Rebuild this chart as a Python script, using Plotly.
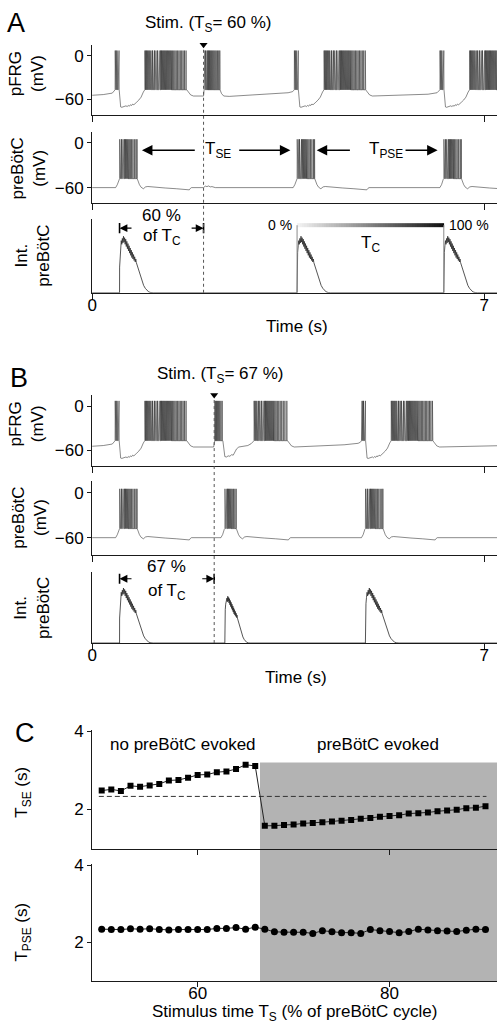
import numpy as np
import plotly.graph_objects as go

W, H = 497, 1032
FONT = "Liberation Sans, Arial, Helvetica, sans-serif"
INK = "#1a1a1a"

# ============================ DATA ============================
T_END = 7.23                     # visible time window (s)
TIME_TICKS = [0, 7]
MV_TICKS = [0, -60]

STIM_A = 1.99                    # stimulus time, panel A (s)
STIM_B = 2.18                    # stimulus time, panel B (s)
TS_A = "60 %"
TS_B = "67 %"

# spike times inside each burst (s after burst onset)
PFRG_SHORT = [0.000, 0.008, 0.016, 0.025, 0.034, 0.044, 0.055, 0.068]
PFRG_LONG = [0.000, 0.007, 0.014, 0.021, 0.029, 0.037, 0.045, 0.053, 0.061, 0.070,
             0.079, 0.088, 0.097, 0.107, 0.117, 0.127, 0.137, 0.148, 0.159, 0.170,
             0.181, 0.193, 0.205, 0.217, 0.229, 0.242, 0.255, 0.268, 0.282, 0.296,
             0.310, 0.325, 0.340, 0.355, 0.371, 0.387, 0.404, 0.421, 0.438, 0.456,
             0.474, 0.494, 0.515, 0.537, 0.560, 0.584, 0.608, 0.632, 0.657, 0.682,
             0.707, 0.735]
PFRG_LONG_B2 = [0.000, 0.008, 0.016, 0.024, 0.033, 0.042, 0.051, 0.061, 0.071, 0.081,
                0.092, 0.103, 0.114, 0.126, 0.138, 0.150, 0.163, 0.176, 0.190, 0.204,
                0.218, 0.233, 0.248, 0.264, 0.280, 0.297, 0.314, 0.332, 0.350, 0.370,
                0.392, 0.415, 0.440, 0.466, 0.493, 0.521, 0.550, 0.585]
PFRG_STIM_A = [0.000, 0.012, 0.024, 0.037, 0.050, 0.064, 0.078, 0.093, 0.108, 0.124,
               0.140, 0.157, 0.175, 0.194, 0.214, 0.236, 0.258, 0.278]
PFRG_STIM_B = [0.000, 0.015, 0.030, 0.047, 0.065, 0.085, 0.107, 0.130]
PB_BURST = [0.000, 0.010, 0.020, 0.030, 0.041, 0.052, 0.064, 0.076, 0.089, 0.103,
            0.118, 0.134, 0.151, 0.170, 0.190, 0.212, 0.236, 0.262, 0.290, 0.310]
PB_BURST_B2 = [0.000, 0.011, 0.022, 0.034, 0.047, 0.061, 0.076, 0.092, 0.110, 0.130,
               0.152, 0.176, 0.200]

PFRG_SPIKE_BASE, PFRG_SPIKE_PEAK = -47, 7
PB_SPIKE_BASE, PB_SPIKE_PEAK = -48, 5

# sub-threshold pieces (t offset s, mV)
PFRG_RAMP = [(0.000, -47), (0.015, -62), (0.025, -70.5), (0.045, -71), (0.075, -70.5),
             (0.100, -70), (0.120, -69), (0.140, -70), (0.160, -68.5), (0.180, -69.5),
             (0.200, -67.5), (0.220, -68.5), (0.240, -66.5), (0.260, -67.5), (0.280, -65.5),
             (0.310, -64), (0.350, -61), (0.390, -57), (0.430, -50), (0.455, -47)]
PFRG_DECAY = [(0.00, -47), (0.03, -50), (0.07, -54), (0.12, -55.5)]
PB_AFTER = [(0.00, -48), (0.04, -56), (0.07, -59.5), (0.11, -61.5), (0.15, -59),
            (0.19, -58.5), (0.30, -59.5), (0.50, -60.5), (0.70, -61.5), (0.90, -62.2),
            (0.93, -63), (0.95, -61), (0.97, -60)]

# integrated preBötC burst (t offset s, relative amplitude)
INT_DT = [0.000, 0.001, 0.010, 0.020, 0.030, 0.040, 0.050, 0.060, 0.070, 0.080,
          0.090, 0.100, 0.110, 0.120, 0.130, 0.140, 0.150, 0.160, 0.170, 0.180,
          0.190, 0.200, 0.210, 0.220, 0.230, 0.240, 0.250, 0.260, 0.270, 0.280,
          0.290, 0.300, 0.320, 0.340, 0.360, 0.380, 0.400, 0.430, 0.460, 0.490,
          0.520, 0.560, 0.600]
INT_V = [0.00, 0.35, 0.55, 0.64, 0.71, 0.66, 0.74, 0.68, 0.77, 0.69,
         0.75, 0.66, 0.73, 0.63, 0.70, 0.60, 0.67, 0.57, 0.64, 0.54,
         0.61, 0.51, 0.58, 0.48, 0.55, 0.46, 0.52, 0.44, 0.49, 0.42,
         0.46, 0.41, 0.36, 0.30, 0.25, 0.20, 0.16, 0.10, 0.06, 0.03,
         0.012, 0.003, 0.00]

# burst onsets (s)
A_PFRG_BURSTS = [(0.41, PFRG_SHORT), (0.94, PFRG_LONG), (2.00, PFRG_STIM_A),
                 (3.61, PFRG_SHORT), (4.14, PFRG_LONG), (6.21, PFRG_SHORT), (6.74, PFRG_LONG)]
B_PFRG_BURSTS = [(0.41, PFRG_SHORT), (0.94, PFRG_LONG), (2.19, PFRG_STIM_B),
                 (2.89, PFRG_LONG_B2), (4.81, PFRG_SHORT), (5.34, PFRG_LONG)]
A_PB_ONSETS = [0.49, 3.66, 6.28]
B_PB_ONSETS = [0.49, 2.37, 4.88]
B_PB_TEMPLATES = [PB_BURST, PB_BURST_B2, PB_BURST]
B_INT_AMP = [1.0, 0.85, 1.0]
B_INT_TSCALE = [1.0, 0.75, 1.0]

# arrows T_SE / T_PSE (s): (head, tail)
TSE_ARROWS = [(0.89, 1.86), (3.54, 2.60)]
TSE_TEXT_T = 2.24
TPSE_ARROWS = [(4.01, 4.63), (6.17, 5.57)]
TPSE_TEXT_T = 5.25
ARROW_MV = -9.7

# Panel C
TS_PCT = [50, 51, 52, 53, 54, 55, 56, 57, 58, 59, 60, 61, 62, 63, 64, 65, 66,
          67, 68, 69, 70, 71, 72, 73, 74, 75, 76, 77, 78, 79, 80, 81, 82, 83, 84,
          85, 86, 87, 88, 89, 90]
T_SE = [2.48, 2.51, 2.47, 2.60, 2.58, 2.61, 2.65, 2.74, 2.75, 2.81, 2.88, 2.89,
        2.95, 2.97, 3.03, 3.14, 3.11,
        1.58, 1.58, 1.60, 1.61, 1.64, 1.65, 1.67, 1.69, 1.71, 1.73, 1.76, 1.78,
        1.81, 1.83, 1.85, 1.89, 1.90, 1.92, 1.95, 1.97, 1.99, 2.03, 2.04, 2.08]
T_PSE = [2.34, 2.33, 2.33, 2.35, 2.34, 2.35, 2.33, 2.32, 2.33, 2.33, 2.33, 2.33,
         2.36, 2.36, 2.38, 2.34, 2.39,
         2.34, 2.27, 2.26, 2.26, 2.26, 2.23, 2.30, 2.27, 2.25, 2.25, 2.23, 2.33,
         2.30, 2.28, 2.25, 2.28, 2.34, 2.32, 2.30, 2.29, 2.28, 2.31, 2.34, 2.33]
T_SE_CONTROL = 2.33
EVOKED_FROM = 66.5
SHADE_TOP_SE = 3.2
C_XRANGE = [49.0, 91.2]


# ============================ HELPERS ============================
def px(x):
    return x / W


def py(y):
    return 1 - y / H


def shift(piece, t0):
    return [(t0 + dt, v) for dt, v in piece]


def vm_trace(anchors, bursts, base, peak):
    pts = list(anchors)
    for onset, offs in bursts:
        for o in offs:
            t = onset + o
            pts += [(t, base), (t + 0.0025, peak), (t + 0.0055, base)]
    pts.sort(key=lambda p: p[0])
    return [p[0] for p in pts], [p[1] for p in pts]


def int_trace(onsets, amps, tscales):
    xs, ys = [0.0], [0.0]
    for o, a, s in zip(onsets, amps, tscales):
        xs += [o + dt * s for dt in INT_DT]
        ys += [v * a for v in INT_V]
    xs.append(T_END + 0.3)
    ys.append(0.0)
    return xs, ys


# ============================ TRACES ============================
A_PFRG_ANCH = ([(0.00, -54.5), (0.20, -53.5), (0.36, -51.5), (0.39, -49), (0.41, -47)]
               + shift(PFRG_RAMP, 0.485) + shift(PFRG_DECAY, 1.69)
               + [(1.99, -55.5), (2.00, -47), (2.285, -47), (2.31, -52), (2.35, -55.5),
                  (2.45, -56), (3.00, -53.5), (3.50, -51), (3.58, -49.5), (3.61, -47)]
               + shift(PFRG_RAMP, 3.685) + shift(PFRG_DECAY, 4.885)
               + [(5.5, -54.5), (6.0, -53), (6.16, -51), (6.19, -49), (6.21, -47)]
               + shift(PFRG_RAMP, 6.285) + [(7.6, -47)])
B_PFRG_ANCH = ([(0.00, -54.5), (0.20, -53.5), (0.36, -51.5), (0.39, -49), (0.41, -47)]
               + shift(PFRG_RAMP, 0.485) + shift(PFRG_DECAY, 1.69)
               + [(2.17, -55.5), (2.19, -47), (2.335, -47), (2.35, -60), (2.37, -68.5),
                  (2.40, -69), (2.43, -67.5), (2.46, -68), (2.49, -66), (2.52, -66.5),
                  (2.55, -63), (2.58, -58), (2.62, -55.5), (2.70, -54.5), (2.78, -53.5),
                  (2.84, -51), (2.89, -47)]
               + shift(PFRG_DECAY, 3.49)
               + [(4.0, -54.5), (4.5, -52.5), (4.75, -50.5), (4.79, -49), (4.81, -47)]
               + shift(PFRG_RAMP, 4.885) + shift(PFRG_DECAY, 6.085)
               + [(6.7, -54.5), (7.4, -53.5)])
A_PB_ANCH = ([(0, -60), (0.42, -60), (0.45, -56), (0.48, -49), (0.49, -48)]
             + shift(PB_AFTER, 0.805)
             + [(1.99, -60), (2.02, -58), (2.05, -58.6), (2.08, -57.8), (2.11, -59),
                (2.14, -58.6), (2.20, -60), (3.59, -60), (3.62, -56), (3.65, -49), (3.66, -48)]
             + shift(PB_AFTER, 3.975)
             + [(6.21, -60), (6.24, -56), (6.27, -49), (6.28, -48)]
             + shift(PB_AFTER, 6.595) + [(7.6, -60)])
B_PB_ANCH = ([(0, -60), (0.42, -60), (0.45, -56), (0.48, -49), (0.49, -48)]
             + shift(PB_AFTER, 0.805)
             + [(2.30, -60), (2.33, -56), (2.36, -49), (2.37, -48)]
             + shift(PB_AFTER, 2.575)
             + [(4.81, -60), (4.84, -56), (4.87, -49), (4.88, -48)]
             + shift(PB_AFTER, 5.195) + [(7.6, -60)])

traces = []
LINE = dict(color="#2a2a2a", width=0.55)


def add_line(xy, xa, ya, line=LINE):
    traces.append(go.Scatter(x=xy[0], y=xy[1], mode="lines", line=line,
                             xaxis=xa, yaxis=ya, hoverinfo="skip", showlegend=False))


add_line(vm_trace(A_PFRG_ANCH, A_PFRG_BURSTS, PFRG_SPIKE_BASE, PFRG_SPIKE_PEAK), "x", "y")
add_line(vm_trace(A_PB_ANCH, [(o, PB_BURST) for o in A_PB_ONSETS],
                  PB_SPIKE_BASE, PB_SPIKE_PEAK), "x2", "y2")
add_line(int_trace(A_PB_ONSETS, [1, 1, 1], [1, 1, 1]), "x3", "y3", dict(color="#2a2a2a", width=0.8))
add_line(vm_trace(B_PFRG_ANCH, B_PFRG_BURSTS, PFRG_SPIKE_BASE, PFRG_SPIKE_PEAK), "x4", "y4")
add_line(vm_trace(B_PB_ANCH, list(zip(B_PB_ONSETS, B_PB_TEMPLATES)),
                  PB_SPIKE_BASE, PB_SPIKE_PEAK), "x5", "y5")
add_line(int_trace(B_PB_ONSETS, B_INT_AMP, B_INT_TSCALE), "x6", "y6", dict(color="#2a2a2a", width=0.8))

# T_C gradient bar and its drop lines (panel A)
TC0, TC1 = A_PB_ONSETS[1], A_PB_ONSETS[2]
BAR_Y = 0.92
NBAR = 60
traces.append(go.Heatmap(x=np.linspace(TC0, TC1, NBAR + 1), y=[BAR_Y - 0.028, BAR_Y + 0.028],
                         z=[np.linspace(0, 1, NBAR)],
                         colorscale=[[0, "#f2f2f2"], [1, "#111111"]], showscale=False,
                         xaxis="x3", yaxis="y3", hoverinfo="skip"))
add_line(([TC0, TC0, None, TC1, TC1], [0, BAR_Y, None, 0, BAR_Y]), "x3", "y3",
         dict(color="#8a8a8a", width=1))

# |<- ... ->| bars in Int panels
for xa, ya, on, st, yv in [("x3", "y3", A_PB_ONSETS[0], STIM_A, 0.88),
                           ("x6", "y6", B_PB_ONSETS[0], STIM_B, 0.90)]:
    add_line(([on, on, None, st, st], [yv - 0.07, yv + 0.07, None, yv - 0.07, yv + 0.07]),
             xa, ya, dict(color="black", width=1.6))

# stimulus triangles
for xa, ya, st, top in [("x", "y", STIM_A, 15), ("x4", "y4", STIM_B, 15)]:
    traces.append(go.Scatter(x=[st], y=[top], mode="markers", xaxis=xa, yaxis=ya,
                             marker=dict(symbol="triangle-down", size=7, color="black"),
                             cliponaxis=False, hoverinfo="skip", showlegend=False))

# Panel C
traces.append(go.Scatter(x=[TS_PCT[0] - 0.3, TS_PCT[-1] + 0.1], y=[T_SE_CONTROL] * 2,
                         mode="lines", line=dict(color="#333", width=1, dash="5px,3px"),
                         xaxis="x7", yaxis="y7", hoverinfo="skip", showlegend=False))
traces.append(go.Scatter(x=TS_PCT, y=T_SE, mode="lines+markers", xaxis="x7", yaxis="y7",
                         line=dict(color="#222", width=1),
                         marker=dict(symbol="square", size=6, color="black"),
                         hoverinfo="skip", showlegend=False))
traces.append(go.Scatter(x=TS_PCT, y=T_PSE, mode="lines+markers", xaxis="x8", yaxis="y8",
                         line=dict(color="#222", width=1),
                         marker=dict(symbol="circle", size=7, color="black"),
                         hoverinfo="skip", showlegend=False))

fig = go.Figure(traces)

# ============================ LAYOUT ============================
X_DOM = [88 / W, 1.0]
PANELS = [  # (top px, bottom px, y range)
    (37, 108, [-81.8, 15]),
    (125, 197, [-81.3, 14.7]),
    (213, 287, [0, 1]),
    (390, 462, [-81.8, 15]),
    (477, 551, [-82.7, 15]),
    (568, 640, [0, 1]),
    (728, 848, [0.974, 4.02]),
    (863, 981, [0.987, 4.02]),
]


def val_to_paper(panel_idx, v):
    top, bot, r = PANELS[panel_idx]
    d0, d1 = py(bot), py(top)
    return d0 + (v - r[0]) / (r[1] - r[0]) * (d1 - d0)


common = dict(showline=True, linecolor=INK, linewidth=1, ticks="outside", tickcolor=INK,
              tickwidth=1, showgrid=False, zeroline=False, fixedrange=True,
              tickfont=dict(size=17, color="black", family=FONT))
lay = {}
for i, (top, bot, yr) in enumerate(PANELS, start=1):
    xn = "xaxis" if i == 1 else f"xaxis{i}"
    yn = "yaxis" if i == 1 else f"yaxis{i}"
    yid = "y" if i == 1 else f"y{i}"
    xid = "x" if i == 1 else f"x{i}"
    if i <= 6:
        xa = dict(common, domain=X_DOM, range=[0, T_END], tickvals=TIME_TICKS, ticklen=6,
                  showticklabels=(i in (3, 6)), anchor=yid, ticklabelstandoff=-9)
        if i in (3, 6):
            ya = dict(common, domain=[py(bot), py(top)], range=yr, ticks="",
                      showticklabels=False, anchor=xid)
        else:
            ya = dict(common, domain=[py(bot), py(top)], range=yr, tickvals=MV_TICKS,
                      ticklen=4, anchor=xid)
    else:
        xa = dict(common, domain=X_DOM, range=C_XRANGE, tickvals=[60, 80], ticklen=5,
                  showticklabels=(i == 8), anchor=yid, ticklabelstandoff=-9)
        ya = dict(common, domain=[py(bot), py(top)], range=yr, tickvals=[2, 4],
                  ticklen=4, anchor=xid)
    lay[xn] = xa
    lay[yn] = ya

ann = []


def text(x, y, s, size=17, angle=0, xanchor="center", xref="paper", yref="paper"):
    ann.append(dict(x=x, y=y, xref=xref, yref=yref, text=s, showarrow=False,
                    textangle=angle, xanchor=xanchor, yanchor="middle",
                    font=dict(family=FONT, size=size, color="black")))


# panel letters
text(px(11), py(15), "A", 27)
text(px(14), py(373), "B", 27)
text(px(20), py(731), "C", 27)
# stim titles
text(px(206), py(16), f"Stim. (T<sub>S</sub>= {TS_A})")
text(px(218), py(370), f"Stim. (T<sub>S</sub>= {TS_B})")
# y labels
text(px(22), py(66), "pFRG<br>(mV)", angle=-90)
text(px(24), py(162), "preBötC<br>(mV)", angle=-90)
text(px(27), py(250), "Int.<br>preBötC", angle=-90)
text(px(22), py(419), "pFRG<br>(mV)", angle=-90)
text(px(24), py(514), "preBötC<br>(mV)", angle=-90)
text(px(27), py(605), "Int.<br>preBötC", angle=-90)
text(px(18), py(790), "T<sub>SE</sub> (s)", angle=-90)
text(px(18), py(931), "T<sub>PSE</sub> (s)", angle=-90)
# x titles
text(px(295), py(321), "Time (s)")
text(px(294), py(675), "Time (s)")
text(px(292), py(1013), "Stimulus time T<sub>S</sub> (% of preBötC cycle)")
# panel C region labels
text(px(180), py(742), "no preBötC evoked")
text(px(377), py(742), "preBötC evoked")

# % of T_C labels (paper y so they stay visible above the axis)
text((A_PB_ONSETS[0] + STIM_A) / 2, val_to_paper(2, 1.05), TS_A, xref="x3")
text((A_PB_ONSETS[0] + STIM_A) / 2, val_to_paper(2, 0.76), "of T<sub>C</sub>", xref="x3")
text((B_PB_ONSETS[0] + STIM_B) / 2, val_to_paper(5, 1.07), TS_B, xref="x6")
text((B_PB_ONSETS[0] + STIM_B) / 2, val_to_paper(5, 0.72), "of T<sub>C</sub>", xref="x6")
# T_C bar labels
text(TC0 - 0.05, BAR_Y, "0 %", 14, xanchor="right", xref="x3", yref="y3")
text(TC1 + 0.05, BAR_Y, "100 %", 14, xanchor="left", xref="x3", yref="y3")
text((TC0 + TC1) / 2, 0.66, "T<sub>C</sub>", xref="x3", yref="y3")
# T_SE / T_PSE labels
text(TSE_TEXT_T, ARROW_MV, "T<sub>SE</sub>", xref="x2", yref="y2")
text(TPSE_TEXT_T, ARROW_MV, "T<sub>PSE</sub>", xref="x2", yref="y2")


def arrow(head, tail, yv, xr, yr, size, width):
    ann.append(dict(x=head, y=yv, ax=tail, ay=yv, xref=xr, yref=yr, axref=xr, ayref=yr,
                    text="", showarrow=True, arrowhead=2, arrowsize=size,
                    arrowwidth=width, arrowcolor="black", standoff=0, startstandoff=0))


for h, t in TSE_ARROWS + TPSE_ARROWS:
    arrow(h, t, ARROW_MV, "x2", "y2", 1.4, 1.5)
arrow(A_PB_ONSETS[0], A_PB_ONSETS[0] + 0.24, 0.88, "x3", "y3", 1.3, 1.2)
arrow(STIM_A, STIM_A - 0.24, 0.88, "x3", "y3", 1.3, 1.2)
arrow(B_PB_ONSETS[0], B_PB_ONSETS[0] + 0.24, 0.90, "x6", "y6", 1.3, 1.2)
arrow(STIM_B, STIM_B - 0.24, 0.90, "x6", "y6", 1.3, 1.2)

# shapes: stimulus dotted lines + shaded "evoked" region
shapes = []
for xr, st, ytop, ybot in [("x", STIM_A, 40, 287), ("x4", STIM_B, 393, 640)]:
    shapes.append(dict(type="line", xref=xr, yref="paper", x0=st, x1=st,
                       y0=py(ybot), y1=py(ytop), line=dict(color="#555", width=1, dash="dot")))
shapes.append(dict(type="rect", xref="x7", yref="paper", x0=EVOKED_FROM, x1=C_XRANGE[1],
                   y0=py(PANELS[7][1]), y1=val_to_paper(6, SHADE_TOP_SE), fillcolor="#b3b3b3",
                   line=dict(width=0), layer="below"))

fig.update_layout(
    width=W, height=H, margin=dict(l=0, r=0, t=0, b=0),
    paper_bgcolor="white", plot_bgcolor="rgba(0,0,0,0)",
    font=dict(family=FONT, size=17, color="black"),
    showlegend=False, annotations=ann, shapes=shapes, **lay,
)
fig.write_html("out.html",
               config={"displayModeBar": False, "staticPlot": True},
               post_script="document.body.style.margin='0px';"
                           "document.body.style.padding='0px';"
                           "document.documentElement.style.overflow='hidden';")
